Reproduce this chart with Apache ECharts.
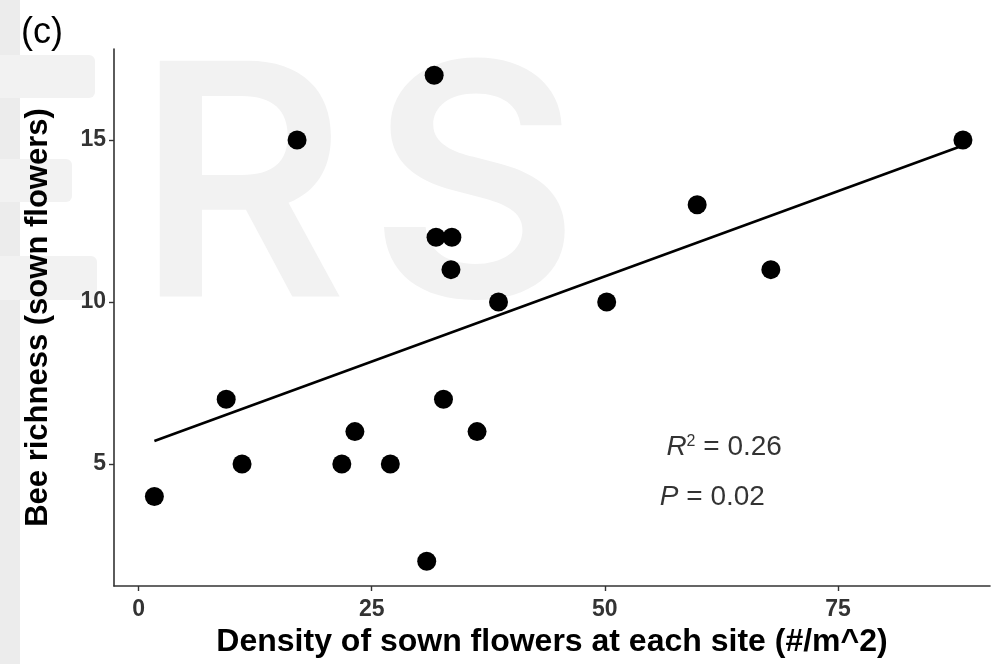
<!DOCTYPE html>
<html>
<head>
<meta charset="utf-8">
<script src="https://cdn.jsdelivr.net/npm/echarts@6/dist/echarts.min.js"></script>
<style>
html,body{margin:0;padding:0;background:#fff;}
#chart{width:999px;height:664px;}
</style>
</head>
<body>
<div id="chart"></div>
<script>
// Sown flower density (#/m^2) and bee richness per site
const density = [1.7, 9.4, 11.1, 17.0, 21.8, 23.2, 27.0, 30.9, 31.7, 31.9, 33.6, 33.5, 32.7, 36.3, 38.6, 50.2, 59.9, 67.8, 88.4];
const richness = [4, 7, 5, 15, 5, 6, 5, 2, 17, 12, 12, 11, 7, 6, 10, 10, 13, 11, 15];
// Fitted regression line end points
const fitX = [1.7, 88.4];
const fitY = [5.71, 14.83];
const xTicks = [0, 25, 50, 75];
const yTicks = [5, 10, 15];
const panelLabel = '(c)';
const xTitle = 'Density of sown flowers at each site (#/m^2)';
const yTitle = 'Bee richness (sown flowers)';
const statsAnchor = [[56.6, 5.52], [55.9, 3.98]];

const chart = echarts.init(document.getElementById('chart'), null, {renderer: 'canvas'});
const wm = '#f2f2f2';
const option = {
  animation: false,
  backgroundColor: '#ffffff',
  grid: {left: 114, right: 9, top: 49, bottom: 78, containLabel: false, outerBoundsMode: 'none'},
  graphic: [
    {type: 'rect', z: -10, shape: {x: 0, y: 0, width: 20, height: 664}, style: {fill: '#ececec'}},
    {type: 'rect', z: -10, shape: {x: -40, y: 55, width: 135, height: 43, r: 6}, style: {fill: wm}},
    {type: 'rect', z: -10, shape: {x: -40, y: 159, width: 112, height: 43, r: 6}, style: {fill: wm}},
    {type: 'rect', z: -10, shape: {x: -40, y: 256, width: 137, height: 44, r: 6}, style: {fill: wm}},
    {type: 'text', z: -10, style: {x: 136, y: 199, text: 'R', font: '600 324px Inter', fill: wm, textVerticalAlign: 'middle'}},
    {type: 'text', z: -10, style: {x: 369, y: 199, text: 'S', font: '600 324px Inter', fill: wm, textVerticalAlign: 'middle'}},
    {type: 'text', style: {x: 21, y: 33, text: panelLabel, font: '36px "Liberation Sans"', fill: '#000', textVerticalAlign: 'middle'}}
  ],
  xAxis: {
    type: 'value', min: -2.63, max: 91.3,
    splitLine: {show: false},
    axisLine: {show: true, onZero: false, lineStyle: {color: '#333', width: 1.6}},
    axisTick: {show: true, customValues: xTicks, length: 5, lineStyle: {color: '#333', width: 1.4}},
    axisLabel: {customValues: xTicks, color: '#333', fontSize: 23, fontWeight: 'bold', fontFamily: 'Liberation Sans', margin: 12},
    name: xTitle, nameLocation: 'middle', nameGap: 40,
    nameTextStyle: {color: '#000', fontSize: 32, fontWeight: 'bold', fontFamily: 'Liberation Sans', verticalAlign: 'top'}
  },
  yAxis: {
    type: 'value', min: 1.235, max: 17.81,
    splitLine: {show: false},
    axisLine: {show: true, onZero: false, lineStyle: {color: '#333', width: 1.6}},
    axisTick: {show: true, customValues: yTicks, length: 5, lineStyle: {color: '#333', width: 1.4}},
    axisLabel: {customValues: yTicks, color: '#333', fontSize: 23, fontWeight: 'bold', fontFamily: 'Liberation Sans', margin: 8},
    name: yTitle, nameLocation: 'middle', nameGap: 60, nameRotate: 90,
    nameTextStyle: {color: '#000', fontSize: 31, fontWeight: 'bold', fontFamily: 'Liberation Sans', verticalAlign: 'bottom'}
  },
  series: [
    {
      type: 'line', data: fitX.map((x, i) => [x, fitY[i]]),
      showSymbol: false, lineStyle: {color: '#000', width: 2.6}, z: 2, silent: true
    },
    {
      type: 'scatter', data: density.map((x, i) => [x, richness[i]]),
      symbolSize: 19, itemStyle: {color: '#000', opacity: 1}, z: 3
    },
    {
      type: 'scatter', data: statsAnchor, symbolSize: 0, silent: true,
      label: {
        show: true, position: 'right', distance: 0,
        formatter: (p) => p.dataIndex === 0 ? '{i|R}{s|2}{n| = 0.26}' : '{i|P}{n| = 0.02}',
        rich: {
          i: {fontStyle: 'italic', fontSize: 28, fontFamily: 'Liberation Sans', color: '#000'},
          s: {fontSize: 16, fontFamily: 'Liberation Sans', color: '#000', verticalAlign: 'top', padding: [0, 0, 12, 0]},
          n: {fontSize: 28, fontFamily: 'Liberation Sans', color: '#000'}
        }
      }
    }
  ]
};
chart.setOption(option);
</script>
</body>
</html>
